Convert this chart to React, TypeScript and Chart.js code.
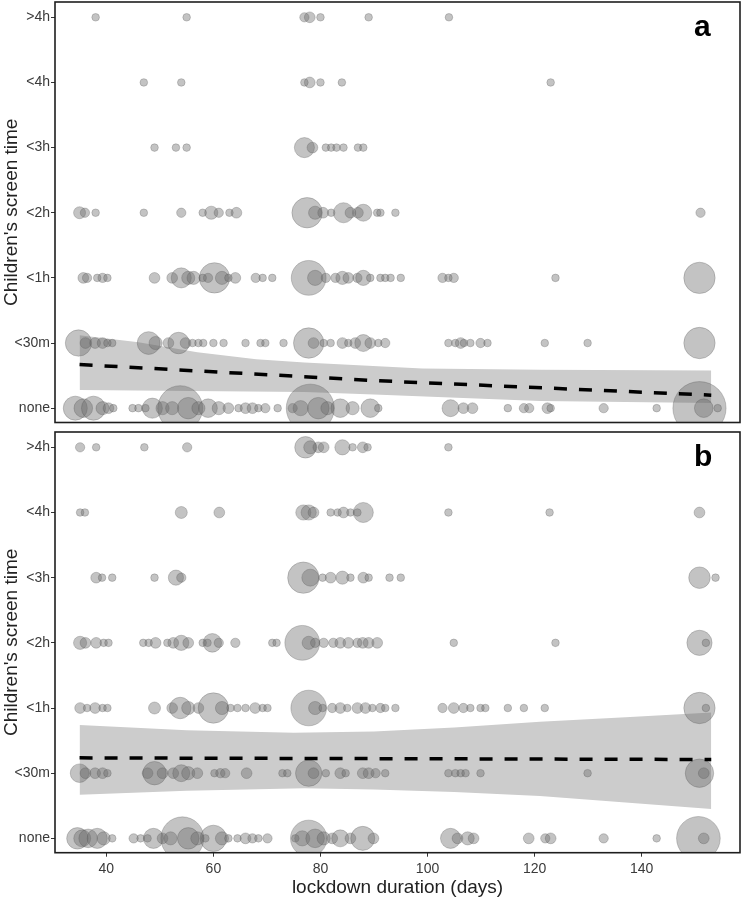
import React, { useEffect, useRef } from "react";
import { Chart, registerables } from "chart.js";
Chart.register(...registerables);

// y categories (bottom to top)
const CATEGORIES = ["none", "<30m", "<1h", "<2h", "<3h", "<4h", ">4h"];
const X_TICKS = [40, 60, 80, 100, 120, 140];
const X_TITLE = "lockdown duration (days)";
const Y_TITLE = "Children's screen time";

// ---- Panel a: [lockdown days, number of respondents] per category ----
const A_NONE = [[34.2,10],[35.7,6],[37.6,10],[39.3,3],[40.4,2],[41.3,1],[44.9,1],[46,1],[47.3,1],[48.6,7],[50.5,3],[52.3,3],[53.8,35],[55.3,8],[57.2,3],[59,6],[61,3],[62.8,2],[64.7,1],[66,2],[67.3,2],[68.4,1],[69.7,1.5],[72,1],[74.8,1.5],[76.3,4],[78.1,40],[79.6,8],[81.3,3],[83.7,6],[86,3],[89.3,6],[90.8,1],[104.3,5],[106.7,2],[108.4,2],[115,1],[118,1.5],[119,1.5],[122.4,2],[123,1],[132.9,1.5],[142.8,1],[150.8,49],[151.6,6],[154.2,1]];
const A_30M = [[34.8,12],[36.1,2],[37.9,2],[39.3,2],[40.2,1],[41.1,1],[47.9,9],[49.2,3],[51.6,2],[53.5,8],[54.8,2],[56.1,1],[57.2,1],[58.1,1],[60,1],[61.9,1],[66,1],[68.8,1],[69.7,1],[73.1,1],[77.8,16],[78.7,2],[80.6,1],[81.9,1],[84.1,2],[85.2,1],[86.5,2],[88,5],[89.3,2],[90.8,1],[92.1,1.5],[103.9,1],[105.2,1],[106.2,2],[106.8,1],[108,1],[109.9,1.5],[111.2,1],[121.9,1],[129.9,1],[150.8,17]];
const A_1H = [[35.7,2],[36.4,1.5],[38.3,1],[39.3,1.5],[40.2,1],[49,2],[52.3,2],[54,7],[55.3,3],[56.3,3],[58,1],[59,1.5],[60.2,16],[61.6,3],[62.8,1],[64.1,2],[67.9,1.5],[69.2,1],[71,1],[77.8,21],[79,4],[81,1.5],[82.8,1.5],[84.1,3],[85.2,2],[86.9,1.5],[88,4],[89.3,1],[91.2,1],[92.1,1],[93.1,1],[95,1],[102.8,1.5],[103.9,1],[104.9,1.5],[123.9,1],[150.8,17]];
const A_2H = [[35,2.5],[36,1.5],[38,1],[47,1],[54,1.5],[58,1],[59.6,3],[61,1.5],[63,1],[64.3,2],[77.5,16],[79,3],[80.5,2],[82,1],[84.3,7],[85.6,2],[87,2],[88,5],[90.6,1],[91.2,1],[94,1],[151,1.5]];
const A_3H = [[49,1],[53,1],[55,1],[77,7],[78.5,2],[81,1],[82,1],[83,1],[84.3,1],[87,1],[88,1]];
const A_4H = [[47,1],[54,1],[77,1],[78,2],[80,1],[84,1],[123,1]];
const A_GT4H = [[38,1],[55,1],[77,1.5],[78,2],[80,1],[89,1],[104,1]];

const A_FIT_DAYS = [35, 91, 153];
const A_FIT = [1.67, 1.42, 1.2];
const A_UP_DAYS = [35, 46, 57, 68, 77, 99, 121, 153];
const A_UP = [2.12, 2.01, 1.86, 1.75, 1.7, 1.61, 1.59, 1.58];
const A_LO_DAYS = [35, 77, 90, 121, 153];
const A_LO = [1.28, 1.25, 1.21, 1.11, 1.08];

// ---- Panel b ----
const B_NONE = [[34.6,8],[35.5,5],[36.6,6],[38.3,7],[39.5,3],[41.1,1],[45.1,1.5],[46.4,1],[47.7,1],[48.8,7],[50.5,2],[52,3],[54.2,32],[55.3,8],[57,3],[58.5,1],[60,12],[61.6,3],[62.8,1],[64.5,1],[66,2],[67.3,1.5],[68.4,1],[70.1,1.5],[75.3,1],[76.6,4],[77.8,23],[79,6],[80.6,3],[82.2,2],[83.7,5],[85.6,2],[87.9,10],[89.9,2],[104.3,7],[105.6,2],[107.5,3],[108.6,2],[118.9,2],[122,1.5],[123,2],[132.9,1.5],[142.8,1],[150.6,33],[151.6,2]];
const B_30M = [[35,6],[36.1,2],[37.9,2],[39.3,2],[40.2,1],[47.7,2],[49,9.5],[50.5,2],[52.5,2],[54,5],[55.3,3],[57,2],[60.2,1],[61.3,1.5],[62.2,1.5],[66.2,2],[72.9,1],[73.8,1],[77.8,12],[78.7,2],[81,1],[83.7,2],[84.7,1],[87.9,2],[89,2],[90.3,1.5],[92.1,1],[103.9,1],[105.2,1],[106.2,1],[107.1,1],[109.9,1],[129.9,1],[150.8,14],[151.6,2]];
const B_1H = [[35.1,2],[36.4,1],[37.9,2],[39.3,1],[40.2,1],[49,2.5],[52.3,2],[53.8,8],[55.3,3],[57.2,2],[60,16],[61.6,3],[63.2,1],[64.5,1],[66,1],[67.8,2],[69.2,1],[70.1,1],[77.8,22],[79,3],[80.4,1],[82.2,1.5],[83.7,2],[85,1],[86.9,2],[88.4,2],[89.7,1],[91.2,1.5],[92.1,1],[94,1],[102.8,1.5],[104.9,2],[106.7,1.5],[108,1],[109.9,1],[110.8,1],[115,1],[118,1],[121.9,1],[150.8,17],[152,1]];
const B_2H = [[35.1,3],[36.1,2],[38.1,2],[39.5,1],[40.4,1],[46.9,1],[47.9,1],[49.2,2],[51.4,1],[52.5,2],[54,4],[55.3,2],[58,1],[58.9,1],[59.8,6],[61,1.5],[64.1,1.5],[71,1],[71.8,1],[76.6,21],[77.8,3],[79,1.5],[80.6,1.5],[82.4,1.5],[83.7,2],[85.2,2],[86.9,1.5],[87.9,2],[89,2],[90.6,2],[104.9,1],[123.9,1],[150.8,11],[152,1]];
const B_3H = [[38.1,2],[39.2,1],[41.1,1],[49,1],[53,4],[54,1.5],[76.8,17],[78.1,5],[80.4,1],[81.9,2],[84.1,3],[85.6,1],[88,2],[89,1],[92.9,1],[95,1],[150.8,8],[153.8,1]];
const B_4H = [[35.1,1],[36,1],[54,2.5],[61.1,2],[76.8,4],[77.8,4],[78.7,2],[81.9,1],[83.2,1],[84.3,2],[85.6,1],[86.9,1],[88,7],[103.9,1],[122.8,1],[150.8,2]];
const B_GT4H = [[35.1,1.5],[38.1,1],[47.1,1],[55.1,1.5],[77.2,8],[78.1,3],[79.6,2],[80.6,2],[84.1,4],[86,1],[87.9,2],[88.8,1],[103.9,1]];

const B_FIT_DAYS = [35, 153];
const B_FIT = [2.235, 2.21];
const B_UP_DAYS = [35, 55, 75, 90, 105, 121, 137, 153];
const B_UP = [2.74, 2.66, 2.62, 2.64, 2.7, 2.79, 2.86, 2.93];
const B_LO_DAYS = [35, 55, 77, 90, 105, 121, 137, 153];
const B_LO = [1.67, 1.73, 1.77, 1.75, 1.71, 1.65, 1.55, 1.45];

const FONT = "'Liberation Sans', Arial, Helvetica, sans-serif";

const panelPlugin = (label: string) => ({
  id: "panelDeco" + label,
  afterDraw(chart: any) {
    const { ctx, chartArea: a } = chart;
    ctx.save();
    ctx.strokeStyle = "#1e1e1e";
    ctx.lineWidth = 1.6;
    ctx.strokeRect(a.left, a.top, a.right - a.left, a.bottom - a.top);
    ctx.fillStyle = "#000";
    ctx.font = `bold 30px ${FONT}`;
    ctx.textAlign = "left";
    ctx.textBaseline = "alphabetic";
    ctx.fillText(label, a.right - 46, a.top + 34);
    ctx.restore();
  },
});

function buildConfig(rows: number[][][], fitDays: number[], fit: number[], upDays: number[], up: number[], loDays: number[], lo: number[], label: string, showX: boolean) {
  const bubbles: any[] = [];
  rows.forEach((row, i) =>
    row.forEach(([d, n]) => bubbles.push({ x: d, y: i + 1, r: 3.8 * Math.sqrt(n) }))
  );
  const xScale: any = {
    type: "linear",
    min: 30.41,
    max: 158.37,
    display: showX,
    afterBuildTicks: (s: any) => { s.ticks = X_TICKS.map((v) => ({ value: v })); },
    ticks: { font: { family: FONT, size: 14 }, color: "#3a3a3a", padding: 4, autoSkip: false, maxRotation: 0 },
    grid: { display: true, drawOnChartArea: false, tickLength: 4, color: "#333" },
    border: { display: false },
    title: { display: true, text: X_TITLE, font: { family: FONT, size: 19 }, color: "#222", padding: { top: 0, bottom: 3 } },
  };
  if (showX) xScale.afterFit = (s: any) => { s.height = 49.3; s.paddingLeft = 0; s.paddingRight = 0; };
  return {
    type: "bubble",
    data: {
      datasets: [
        {
          type: "line",
          data: upDays.map((d, i) => ({ x: d, y: up[i] })),
          borderWidth: 0,
          pointRadius: 0,
          backgroundColor: "rgb(204,204,204)",
          fill: "+1",
          order: 10,
        },
        {
          type: "line",
          data: loDays.map((d, i) => ({ x: d, y: lo[i] })),
          borderWidth: 0,
          pointRadius: 0,
          fill: false,
          order: 9,
        },
        {
          type: "bubble",
          data: bubbles,
          backgroundColor: "rgba(105,105,105,0.4)",
          borderColor: "rgba(80,80,80,0.35)",
          borderWidth: 0.8,
          hoverRadius: 0,
          clip: 0,
          order: 5,
        },
        {
          type: "line",
          data: fitDays.map((d, i) => ({ x: d, y: fit[i] })),
          borderColor: "#000",
          borderWidth: 3.5,
          borderDash: [13, 12],
          pointRadius: 0,
          fill: false,
          order: 0,
        },
      ],
    },
    options: {
      responsive: false,
      animation: false,
      events: [],
      layout: {
        autoPadding: false,
        padding: showX ? { left: 0, right: 3, top: 6, bottom: 0 } : { left: 0, right: 3, top: 2, bottom: 3.5 },
      },
      plugins: { legend: { display: false }, tooltip: { enabled: false } },
      scales: {
        x: xScale,
        y: {
          type: "linear",
          min: 0.78,
          max: 7.235,
          afterBuildTicks: (s: any) => { s.ticks = CATEGORIES.map((_, i) => ({ value: i + 1 })); },
          afterFit: (s: any) => { s.width = 55; s.paddingTop = 0; s.paddingBottom = 0; },
          ticks: {
            font: { family: FONT, size: 14 },
            color: "#3a3a3a",
            padding: 1,
            autoSkip: false,
            callback: (v: any) => CATEGORIES[Math.round(v) - 1],
          },
          grid: { display: true, drawOnChartArea: false, tickLength: 4, color: "#333" },
          border: { display: false },
          title: { display: true, text: Y_TITLE, font: { family: FONT, size: 19 }, color: "#222", padding: { top: 0, bottom: 0 } },
        },
      },
    },
    plugins: [panelPlugin(label)],
  };
}

function Panel({ top, height, cfg }: { top: number; height: number; cfg: () => any }) {
  const ref = useRef<HTMLCanvasElement>(null);
  useEffect(() => {
    const chart = new Chart(ref.current as HTMLCanvasElement, cfg() as any);
    return () => chart.destroy();
  }, []);
  return (
    <canvas
      ref={ref}
      width={743}
      height={height}
      style={{ position: "absolute", left: 0, top, width: 743, height }}
    />
  );
}

export default function App() {
  return (
    <div style={{ position: "fixed", left: 0, top: 0, width: 743, height: 902, background: "#fff" }}>
      <Panel
        top={0}
        height={426}
        cfg={() => buildConfig([A_NONE, A_30M, A_1H, A_2H, A_3H, A_4H, A_GT4H], A_FIT_DAYS, A_FIT, A_UP_DAYS, A_UP, A_LO_DAYS, A_LO, "a", false)}
      />
      <Panel
        top={426}
        height={476}
        cfg={() => buildConfig([B_NONE, B_30M, B_1H, B_2H, B_3H, B_4H, B_GT4H], B_FIT_DAYS, B_FIT, B_UP_DAYS, B_UP, B_LO_DAYS, B_LO, "b", true)}
      />
    </div>
  );
}
